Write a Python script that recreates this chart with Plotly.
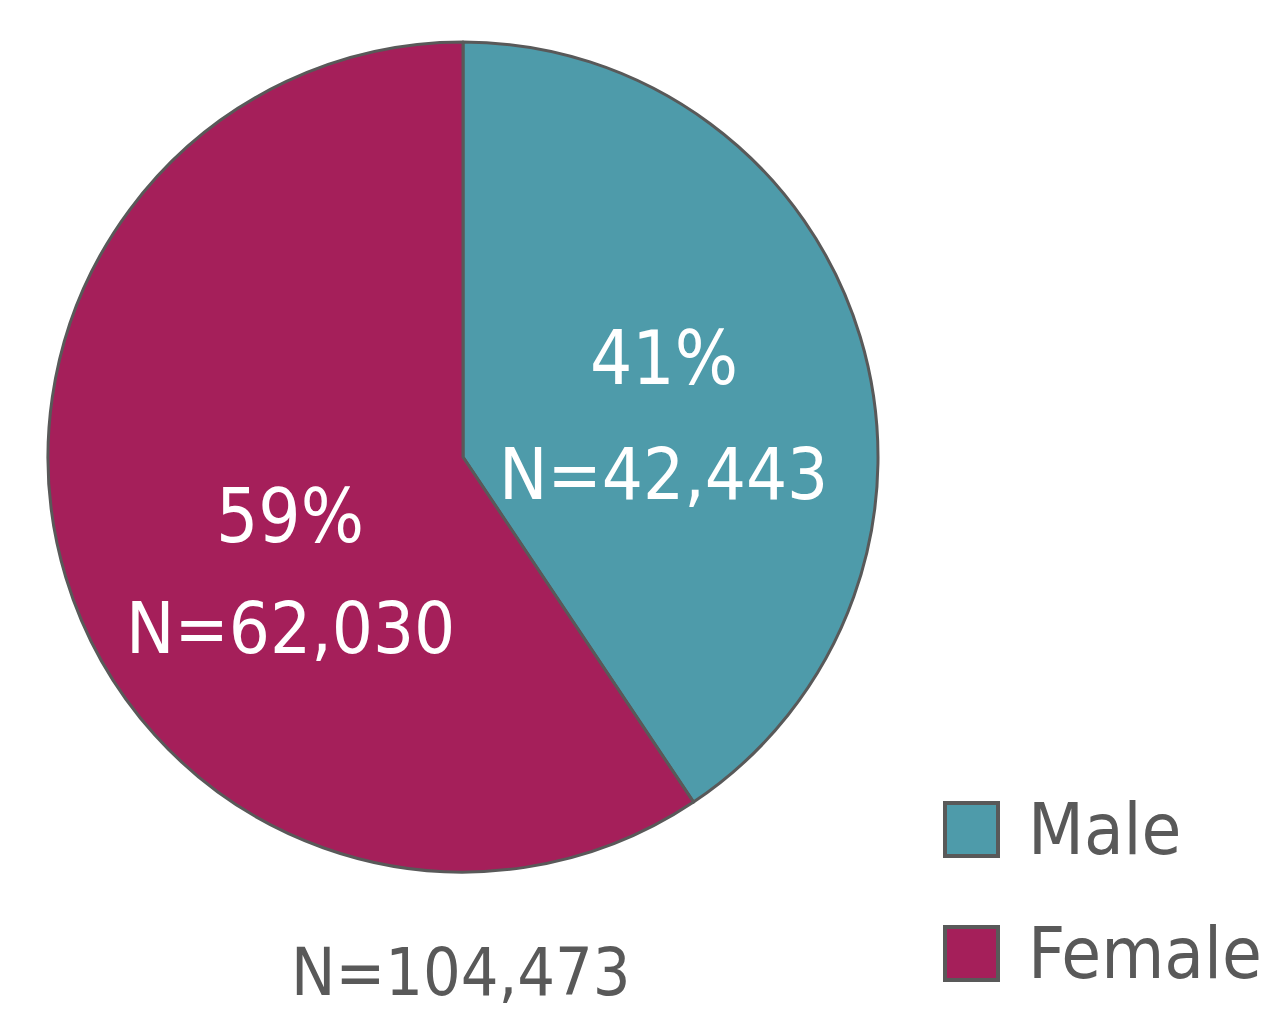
import plotly.graph_objects as go

# data
labels = ['Male', 'Female']
counts = [42443, 62030]
colors = ['#4E9BAA', '#A51F5A']

W, H = 1267, 1018
FONT = 'DejaVu Sans Condensed, sans-serif'
GREY = '#595959'
OFF = 8  # page body margin shifts the plot


def fx(x):
    return (x - OFF) / W


def fy(y):
    return (H - (y - OFF)) / H


total = sum(counts)

fig = go.Figure(go.Pie(
    labels=labels,
    values=counts,
    sort=False,
    direction='clockwise',
    rotation=0,
    marker=dict(colors=colors, line=dict(color=GREY, width=3)),
    textinfo='none',
    domain=dict(x=[fx(48), fx(878)], y=[fy(872), fy(42)]),
    showlegend=False,
    hoverinfo='label+value+percent',
))

# slice labels (Excel-style placement): percent line and N line
label_pos = [(664, 358, 474), (290, 516, 628)]
for (lx, ly1, ly2), n in zip(label_pos, counts):
    fig.add_annotation(
        x=fx(lx), y=fy(ly1), xref='paper', yref='paper',
        text=f'{round(100 * n / total)}%', showarrow=False,
        font=dict(family=FONT, size=74, color='white'),
        xanchor='center', yanchor='middle',
    )
    fig.add_annotation(
        x=fx(lx), y=fy(ly2), xref='paper', yref='paper',
        text=f'N={n:,}', showarrow=False,
        font=dict(family=FONT, size=72, color='white'),
        xanchor='center', yanchor='middle',
    )

# total under the pie
fig.add_annotation(
    x=fx(461), y=fy(972), xref='paper', yref='paper',
    text=f'N={total:,}', showarrow=False,
    font=dict(family=FONT, size=66, color=GREY),
    xanchor='center', yanchor='middle',
)

# custom legend with big swatches
for i, (lab, col) in enumerate(zip(labels, colors)):
    y0 = 803 + i * 124
    fig.add_shape(
        type='rect', xref='paper', yref='paper',
        x0=fx(945), x1=fx(998), y0=fy(y0 + 53), y1=fy(y0),
        fillcolor=col, line=dict(color=GREY, width=4),
    )
    fig.add_annotation(
        x=fx(1026), y=fy(y0 + 26), xref='paper', yref='paper',
        text=lab, showarrow=False, xanchor='left', yanchor='middle',
        font=dict(family=FONT, size=72, color=GREY),
    )

fig.update_layout(
    width=W, height=H,
    margin=dict(l=0, r=0, t=0, b=0),
    paper_bgcolor='white',
    plot_bgcolor='white',
)

fig.write_html('out.html')
